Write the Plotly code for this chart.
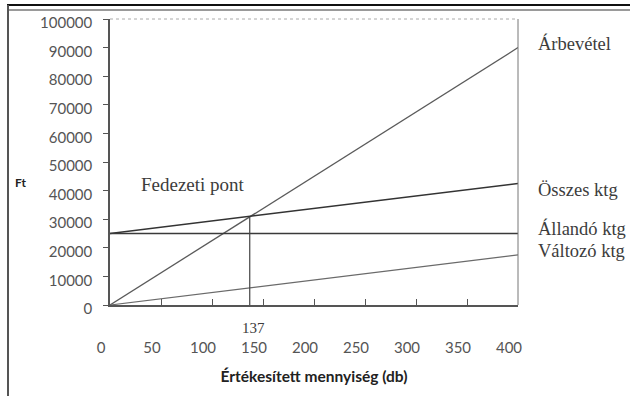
import plotly.graph_objects as go

# Break-even chart data (quantity in db, amounts in Ft)
quantity = [0, 400]
revenue = [0, 90000]          # Árbevétel
fixed_cost = [25000, 25000]   # Állandó ktg
variable_cost = [0, 17500]    # Változó ktg
total_cost = [25000, 42500]   # Összes ktg

breakeven_q = 137
breakeven_value = revenue[1] / quantity[1] * breakeven_q

x_ticks = [0, 50, 100, 150, 200, 250, 300, 350, 400]
y_ticks = [0, 10000, 20000, 30000, 40000, 50000, 60000, 70000, 80000, 90000, 100000]

line_labels = ["Árbevétel", "Összes ktg", "Állandó ktg", "Változó ktg"]
label_values = [revenue[1], total_cost[1], fixed_cost[1], variable_cost[1]]
label_offsets = [4, -7, 5, 4]

SERIF = "Liberation Serif, Times New Roman, serif"
SANS = "Lato, Open Sans, sans-serif"
TEXT = "#3c3c3c"

fig = go.Figure()
fig.add_trace(go.Scatter(x=quantity, y=revenue, mode="lines",
                         line=dict(color="#5a5a5a", width=1.3)))
fig.add_trace(go.Scatter(x=quantity, y=total_cost, mode="lines",
                         line=dict(color="#333333", width=1.5)))
fig.add_trace(go.Scatter(x=quantity, y=fixed_cost, mode="lines",
                         line=dict(color="#3a3a3a", width=1.3)))
fig.add_trace(go.Scatter(x=quantity, y=variable_cost, mode="lines",
                         line=dict(color="#6a6a6a", width=1.2)))
fig.add_trace(go.Scatter(x=[breakeven_q, breakeven_q], y=[0, breakeven_value],
                         mode="lines", line=dict(color="#444444", width=1.2)))

annotations = []
for text, val, off in zip(line_labels, label_values, label_offsets):
    annotations.append(dict(x=quantity[1], y=val, xref="x", yref="y", text=text,
                            showarrow=False, xanchor="left", yanchor="middle",
                            xshift=18, yshift=off,
                            font=dict(family=SERIF, size=18.5, color=TEXT)))
annotations.append(dict(x=breakeven_q, y=breakeven_value, xref="x", yref="y",
                        text="Fedezeti pont", showarrow=False,
                        xanchor="right", yanchor="bottom", xshift=-3, yshift=20,
                        font=dict(family=SERIF, size=19, color=TEXT)))
annotations.append(dict(x=breakeven_q, y=0, xref="x", yref="y", text=str(breakeven_q),
                        showarrow=False, xanchor="center", yanchor="top",
                        xshift=4, yshift=-13,
                        font=dict(family=SERIF, size=15, color=TEXT)))
annotations.append(dict(x=-0.218, y=0.43, xref="paper", yref="paper", text="<b>Ft</b>",
                        showarrow=False, xanchor="center", yanchor="middle",
                        font=dict(family=SANS, size=12, color="#222222")))

# page frame lines
W, H = 408, 286
def px(x):
    return (x - 110) / W
def py(y):
    return (305 - y) / H

shapes = [
    dict(type="line", xref="paper", yref="paper", x0=px(7), x1=px(632), y0=py(5), y1=py(5),
         line=dict(color="#111111", width=2)),
    dict(type="line", xref="paper", yref="paper", x0=px(8), x1=px(632), y0=py(10), y1=py(10),
         line=dict(color="#9a9a9a", width=2)),
    dict(type="line", xref="paper", yref="paper", x0=px(8), x1=px(8), y0=py(5), y1=py(400),
         line=dict(color="#555555", width=2)),
    # plot box: dotted top, plain right edge
    dict(type="line", xref="paper", yref="paper", x0=0, x1=1, y0=1, y1=1,
         line=dict(color="#aaaaaa", width=1, dash="dot")),
    dict(type="line", xref="paper", yref="paper", x0=1, x1=1, y0=0, y1=1,
         line=dict(color="#777777", width=1)),
]

fig.update_layout(
    width=630, height=396,
    margin=dict(l=110, r=112, t=19, b=91),
    paper_bgcolor="white", plot_bgcolor="white",
    showlegend=False,
    annotations=annotations,
    shapes=shapes,
    xaxis=dict(range=[0, 400], tickvals=x_ticks, ticktext=[str(v) for v in x_ticks],
               showgrid=False, zeroline=False, showline=True, linecolor="#555555",
               linewidth=1.5, ticks="inside", ticklen=6, tickcolor="#555555",
               ticklabelstandoff=28, ticklabelshift=-9,
               tickfont=dict(family=SANS, size=15, color="#555555"),
               title=dict(text="<b>Értékesített mennyiség (db)</b>", standoff=16,
                          font=dict(family=SANS, size=15.5, color="#222222"))),
    yaxis=dict(range=[0, 100000], tickvals=y_ticks, ticktext=[str(v) for v in y_ticks],
               showgrid=False, zeroline=False, showline=True, linecolor="#555555",
               linewidth=1.5, ticks="outside", ticklen=5, tickcolor="#555555",
               ticklabelstandoff=8, ticklabelshift=4,
               tickfont=dict(family=SANS, size=15, color="#555555")),
)

fig.write_html("out.html")
